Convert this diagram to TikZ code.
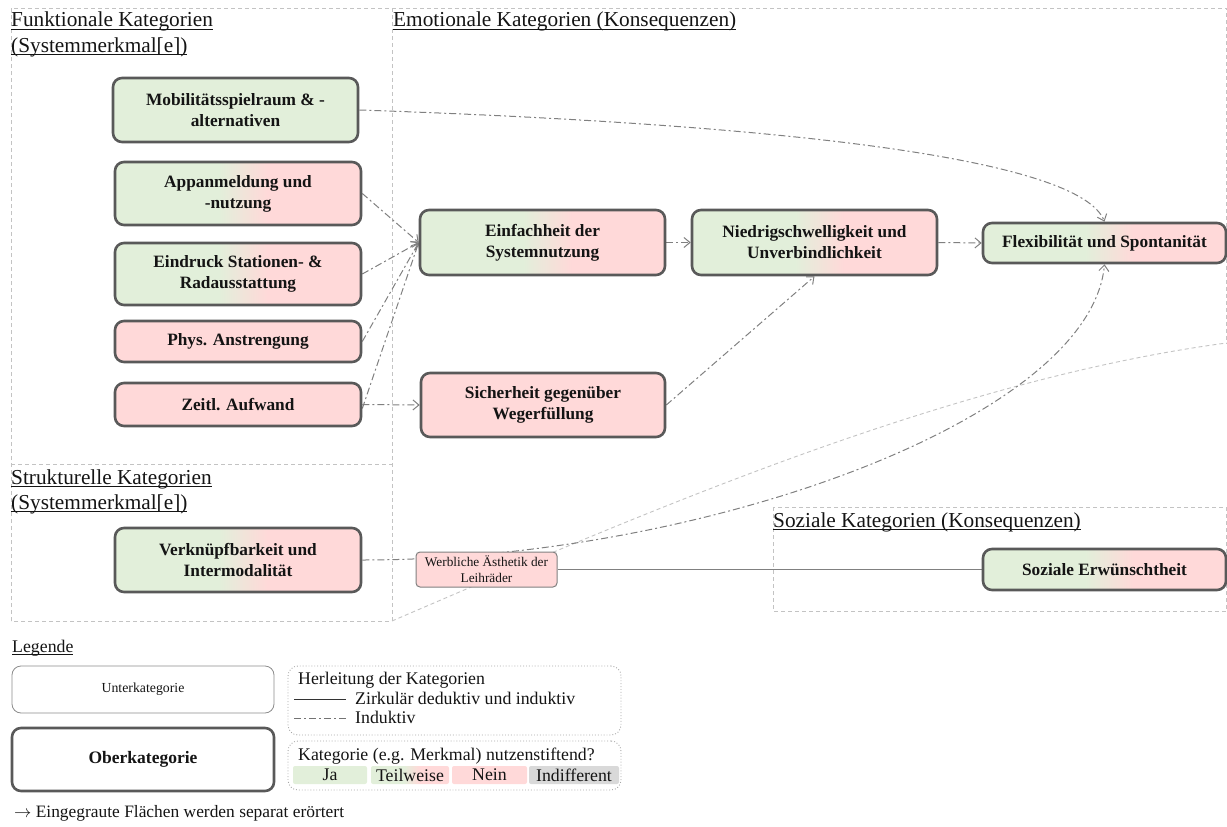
\documentclass[tikz,border=0pt]{standalone}
\usepackage{fontspec}
\setmainfont{Liberation Serif}
\usetikzlibrary{arrows.meta}

\definecolor{gn}{RGB}{226,239,218}
\definecolor{pk}{RGB}{255,217,217}
\definecolor{indiff}{RGB}{217,217,217}
\definecolor{frame}{RGB}{89,89,89}
\definecolor{conn}{RGB}{128,128,128}
\definecolor{regc}{RGB}{195,195,195}
\definecolor{ink}{RGB}{20,20,20}

% green -> pink transition in the middle of a box
\pgfdeclarehorizontalshading{teilshade}{100bp}{color(0bp)=(gn); color(46bp)=(gn); color(56bp)=(pk); color(100bp)=(pk)}

\pgfdeclarelayer{regions}
\pgfdeclarelayer{links}
\pgfsetlayers{regions,links,main}

% underlined heading
\newcommand\hdline[1]{\setbox0\hbox{#1}\rlap{\rule[-3pt]{\wd0}{0.9pt}}\box0}

\begin{document}
\begin{tikzpicture}[x=1pt,y=-1pt,
  ober/.style={draw=frame, line width=2.6pt, rounded corners=9pt, align=center,
    inner sep=0pt, text=ink, font=\fontsize{17.3}{21}\selectfont\bfseries},
  jabox/.style={ober, fill=gn},
  neinbox/.style={ober, fill=pk},
  teilbox/.style={ober, shade, shading=teilshade},
  werbbox/.style={draw=black!50, line width=1pt, fill=pk, rounded corners=4pt,
    align=center, inner sep=0pt, text=ink, font=\fontsize{13.3}{16}\selectfont},
  hd/.style={inner sep=0pt, text=ink, font=\fontsize{21.3}{25}\selectfont},
  lg/.style={inner sep=0pt, text=ink, font=\fontsize{17.8}{20}\selectfont},
  regline/.style={draw=regc, line width=0.9pt, dash pattern=on 4pt off 3pt},
  ind/.style={draw=conn, line width=1pt, dash pattern=on 7pt off 3pt on 2pt off 3pt},
  indarrow/.style={ind, -{Straight Barb[length=6pt,width=10pt]}},
  solidlink/.style={draw=conn, line width=1.1pt},
  dotbox/.style={draw=black!35, dotted, line width=0.9pt, rounded corners=10pt},
  swatch/.style={rounded corners=2pt, inner sep=0pt, minimum height=18, text=ink,
    font=\fontsize{17.8}{20}\selectfont}
]
\useasboundingbox (0,0) rectangle (1227,827);

% ---- category nodes ----
\node[jabox, minimum width=245, minimum height=64] (mob) at (235.5,110) {Mobilitätsspielraum \& -\\alternativen};
\node[teilbox, minimum width=246, minimum height=63] (app) at (238,193.5) {Appanmeldung und\\-nutzung};
\node[teilbox, minimum width=246, minimum height=62] (eind) at (238,274) {Eindruck Stationen- \&\\Radausstattung};
\node[neinbox, minimum width=246, minimum height=41] (phys) at (238,341.5) {Phys. Anstrengung};
\node[neinbox, minimum width=246, minimum height=43] (zeit) at (238,404.5) {Zeitl. Aufwand};
\node[teilbox, minimum width=245, minimum height=65] (einf) at (542.5,242.5) {Einfachheit der\\Systemnutzung};
\node[neinbox, minimum width=244, minimum height=64] (sich) at (543,405) {Sicherheit gegenüber\\Wegerfüllung};
\node[teilbox, minimum width=245, minimum height=65] (nied) at (814.5,242.5) {Niedrigschwelligkeit und\\Unverbindlichkeit};
\node[teilbox, minimum width=243, minimum height=40] (flex) at (1104.5,243) {Flexibilität und Spontanität};
\node[teilbox, minimum width=246, minimum height=64] (verk) at (238,560) {Verknüpfbarkeit und\\Intermodalität};
\node[werbbox, minimum width=141, minimum height=35] (werb) at (486.5,569.5) {Werbliche Ästhetik der\\Leihräder};
\node[teilbox, minimum width=243, minimum height=41] (soz) at (1104.5,569.5) {Soziale Erwünschtheit};

% ---- region headings ----
\node[hd, anchor=base west] (hfunk1) at (11,27) {\hdline{Funktionale Kategorien}};
\node[hd, anchor=base west] (hfunk2) at (11,52) {\hdline{(Systemmerkmal[e])}};
\node[hd, anchor=base west] (hemo) at (393,27) {\hdline{Emotionale Kategorien (Konsequenzen)}};
\node[hd, anchor=base west] (hstru1) at (11,484) {\hdline{Strukturelle Kategorien}};
\node[hd, anchor=base west] (hstru2) at (11,509) {\hdline{(Systemmerkmal[e])}};
\node[hd, anchor=base west] (hsoz) at (773,527) {\hdline{Soziale Kategorien (Konsequenzen)}};

% ---- region outlines ----
\begin{pgfonlayer}{regions}
\draw[regline] (11,621) -- (11,8) -- (1226.5,8) -- (1226.5,343);
\draw[regline] (392,8) -- (392,621) -- (11,621);
\draw[regline] (11,464) -- (392,464);
\draw[regline] (392,621) .. controls (650,510) and (950,380) .. (1226.5,343);
\draw[regline] (773,507) rectangle (1226.5,611);
\end{pgfonlayer}

% ---- connectors ----
\begin{pgfonlayer}{links}
\draw[indarrow] (mob.east) .. controls (800,125) and (1080,160) .. (flex.north);
\draw[indarrow] (app.east) -- (einf.west);
\draw[indarrow] (eind.east) -- (einf.west);
\draw[indarrow] (phys.east) -- (einf.west);
\draw[indarrow] ([yshift=-4pt]zeit.east) -- (einf.west);
\draw[indarrow] (zeit.east) -- (sich.west);
\draw[indarrow] (einf.east) -- (nied.west);
\draw[indarrow] (nied.east) -- (flex.west);
\draw[indarrow] (sich.east) -- (nied.south);
\draw[indarrow] (verk.east) .. controls (700,560) and (1090,420) .. (flex.south);
\draw[solidlink] (werb.east) -- (soz.west);
\end{pgfonlayer}

% ---- legend ----
\node[hd, anchor=base west, font=\fontsize{17.8}{20}\selectfont] (leg) at (12,652) {\hdline{Legende}};
\node[draw=black!45, line width=0.8pt, rounded corners=9pt, minimum width=262, minimum height=47,
  inner sep=0pt, text=ink, font=\fontsize{13.8}{16}\selectfont] (unter) at (143,689.5) {Unterkategorie};
\node[draw=frame, line width=2.6pt, rounded corners=9pt, minimum width=262, minimum height=63,
  inner sep=0pt, text=ink, font=\fontsize{17.5}{20}\selectfont\bfseries] (ober) at (143,759.5) {Oberkategorie};

\node[dotbox, minimum width=333, minimum height=69] (herl) at (454.5,700.5) {};
\node[lg, anchor=base west] (herlt) at (298,684) {Herleitung der Kategorien};
\coordinate (l1a) at (294,699);
\coordinate (l1b) at (346,699);
\draw[draw=black!80, line width=0.9pt] (l1a) -- (l1b);
\node[lg, anchor=base west] (l1t) at (355,704) {Zirkulär deduktiv und induktiv};
\coordinate (l2a) at (294,718);
\coordinate (l2b) at (346,718);
\draw[ind, draw=black!55] (l2a) -- (l2b);
\node[lg, anchor=base west] (l2t) at (355,723) {Induktiv};

\node[dotbox, minimum width=333, minimum height=49] (kat) at (454.5,765.5) {};
\node[lg, anchor=base west] (katt) at (298,760) {Kategorie (e.g. Merkmal) nutzenstiftend?};
\node[swatch, fill=gn, minimum width=74] (sja) at (330,775) {Ja};
\node[swatch, shade, shading=teilshade, minimum width=78] (steil) at (410,775) {Teilweise};
\node[swatch, fill=pk, minimum width=75] (snein) at (489.5,775) {Nein};
\node[swatch, fill=indiff, minimum width=90] (sind) at (574,775) {Indifferent};

\node[lg, anchor=base west, font=\fontsize{17.4}{20}\selectfont] (note) at (14,817) {$\rightarrow$ Eingegraute Flächen werden separat erörtert};
\end{tikzpicture}
\end{document}
